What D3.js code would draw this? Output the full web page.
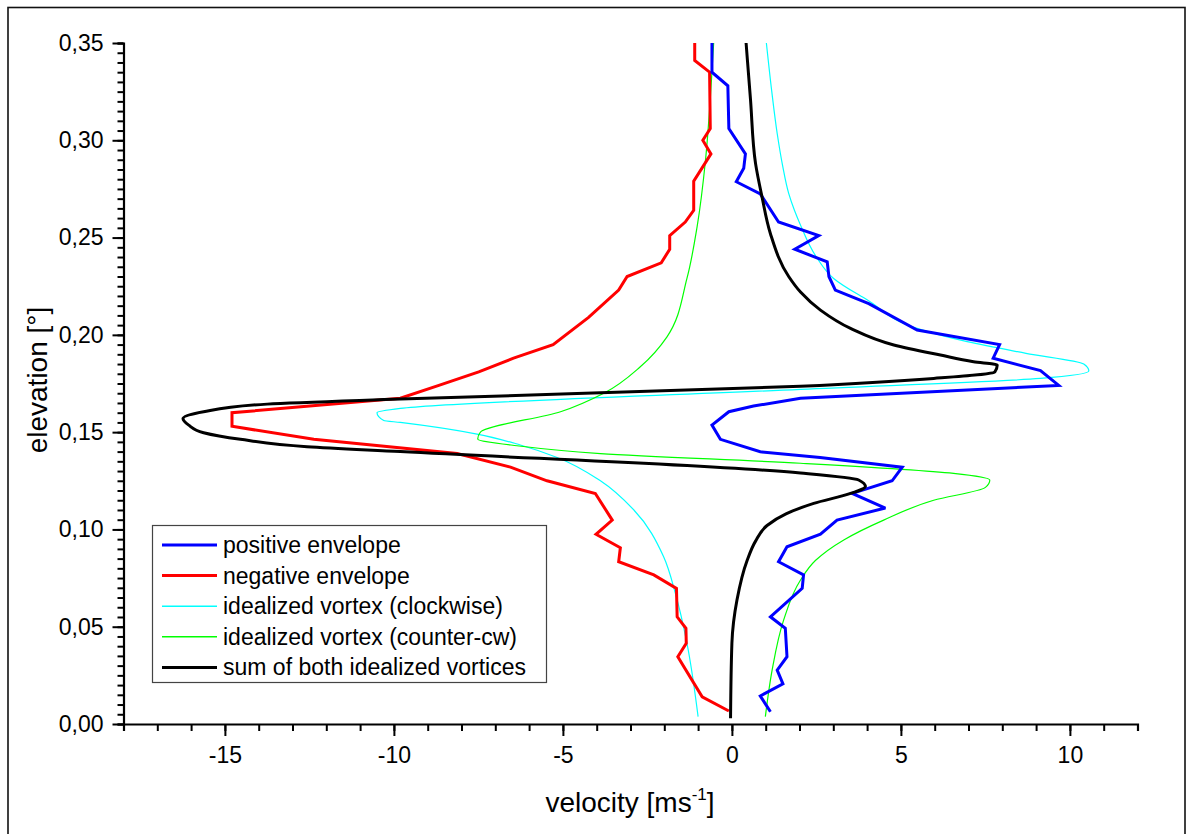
<!DOCTYPE html>
<html>
<head>
<meta charset="utf-8">
<script src="https://cdn.jsdelivr.net/npm/d3@7"></script>
<style>
  html, body { margin: 0; padding: 0; background: #fff; }
  svg { display: block; font-family: "Liberation Sans", Arial, sans-serif; }
</style>
</head>
<body>
<svg id="chart" width="1187" height="834"></svg>
<script>
// ---- data: [velocity (m/s), elevation (°)] ----
const positiveEnvelope = [
  [-0.59,0.350],[-0.59,0.335],[-0.12,0.328],[-0.09,0.306],[0.40,0.293],[0.35,0.2856],[0.13,0.2787],
  [0.84,0.2724],[1.38,0.258],[2.57,0.251],[1.86,0.244],[2.82,0.2375],[2.87,0.230],[3.06,0.223],
  [4.05,0.216],[5.48,0.2025],[7.92,0.195],[7.73,0.188],[9.13,0.1816],[9.67,0.174],[2.03,0.1674],
  [0.64,0.1634],[-0.09,0.1605],[-0.59,0.1536],[-0.34,0.1463],[0.84,0.1399],[2.61,0.137],
  [5.04,0.132],[4.74,0.125],[3.56,0.1185],[4.54,0.111],[3.11,0.1048],[2.62,0.0976],[1.63,0.0911],
  [1.38,0.0834],[2.12,0.0766],[2.08,0.0697],[1.14,0.0551],[1.58,0.0492],[1.63,0.0346],[1.34,0.0277],
  [1.51,0.0206],[0.84,0.0144],[1.14,0.0063]
];
const negativeEnvelope = [
  [-1.10,0.350],[-1.10,0.341],[-0.66,0.335],[-0.64,0.306],[-0.86,0.300],[-0.62,0.293],[-1.13,0.279],
  [-1.13,0.264],[-1.38,0.258],[-1.84,0.251],[-1.84,0.244],[-2.09,0.237],[-3.10,0.230],[-3.35,0.223],
  [-4.24,0.209],[-5.29,0.195],[-6.46,0.188],[-7.49,0.181],[-8.67,0.174],[-9.81,0.1674],[-14.79,0.160],
  [-14.79,0.153],[-12.37,0.1463],[-8.13,0.139],[-6.55,0.132],[-5.47,0.125],[-4.04,0.1185],
  [-3.54,0.1048],[-4.02,0.0975],[-3.30,0.0906],[-3.35,0.0834],[-2.31,0.0766],[-1.64,0.0697],
  [-1.62,0.0551],[-1.36,0.0492],[-1.35,0.0415],[-1.60,0.0346],[-0.88,0.0140],[-0.09,0.0067]
];
const vortexClockwise = [
  [1.02,0.350],[1.18,0.325],[1.34,0.3035],[1.50,0.287],[1.68,0.2727],[1.85,0.264],[2.03,0.2564],
  [2.50,0.240],[3.01,0.229],[4.00,0.218],[5.48,0.2033],[6.96,0.1965],[8.70,0.1905],[10.41,0.185],
  [10.56,0.1814],[9.13,0.1776],[2.03,0.172],[-9.81,0.1622],[-10.50,0.160],[-10.30,0.156],
  [-9.81,0.155],[-7.54,0.149],[-6.26,0.1434],[-5.17,0.137],[-3.89,0.125],[-2.90,0.110],
  [-2.02,0.086],[-1.67,0.067],[-1.33,0.0415],[-1.00,0.0038]
];
const vortexCounterCw = [
  [-0.54,0.350],[-0.64,0.321],[-0.78,0.290],[-1.03,0.2555],[-1.33,0.229],[-1.92,0.199],
  [-2.71,0.1836],[-3.79,0.170],[-5.07,0.1605],[-7.44,0.150],[-7.52,0.1465],[-6.36,0.143],
  [-3.89,0.139],[2.03,0.134],[6.56,0.1288],[7.63,0.1254],[7.50,0.1216],[5.97,0.115],
  [4.49,0.1048],[3.31,0.0946],[2.47,0.084],[2.03,0.074],[1.53,0.0534],[1.19,0.0277],[0.99,0.0038]
];
const vortexSum = [
  [0.42,0.350],[0.55,0.321],[0.70,0.288],[0.89,0.271],[1.14,0.252],[1.68,0.230],[2.03,0.222],
  [2.62,0.2127],[3.51,0.2033],[4.79,0.1948],[6.17,0.1896],[7.15,0.1862],[7.85,0.1845],[7.78,0.181],
  [5.97,0.1776],[2.03,0.1736],[-9.81,0.167],[-13.75,0.1644],[-15.63,0.1605],[-16.24,0.157],
  [-16.07,0.1536],[-15.63,0.1497],[-14.54,0.1463],[-12.57,0.1425],[-9.81,0.140],[2.03,0.129],
  [3.75,0.1254],[3.95,0.122],[3.51,0.1185],[2.42,0.1134],[1.60,0.108],[1.04,0.102],[0.70,0.094],
  [0.45,0.084],[0.15,0.0637],[0.00,0.0415],[-0.04,0.003]
];
const xMajorTicks = [-15, -10, -5, 0, 5, 10];
const yMajorTicks = [0.00, 0.05, 0.10, 0.15, 0.20, 0.25, 0.30, 0.35];
const legendLabels = [
  "positive envelope", "negative envelope", "idealized vortex (clockwise)",
  "idealized vortex (counter-cw)", "sum of both idealized vortices"
];

// ---- drawing ----
const svg = d3.select("#chart");
const x = d3.scaleLinear().domain([-18, 12]).range([123.5, 1137.5]);
const y = d3.scaleLinear().domain([0, 0.35]).range([724, 43]);

// outer frame
svg.append("rect").attr("x", 8).attr("y", 7.5).attr("width", 1177).attr("height", 840)
  .attr("fill", "none").attr("stroke", "#111").attr("stroke-width", 1.6);

svg.append("clipPath").attr("id", "clip").append("rect")
  .attr("x", x(-18)).attr("y", y(0.35) - 2).attr("width", x(12) - x(-18)).attr("height", y(0) - y(0.35) + 2);

const series = [
  { data: vortexClockwise, color: "#00ffff", width: 1.2, curve: d3.curveMonotoneY },
  { data: vortexCounterCw, color: "#00ff00", width: 1.2, curve: d3.curveMonotoneY },
  { data: negativeEnvelope, color: "#ff0000", width: 3, curve: d3.curveLinear },
  { data: positiveEnvelope, color: "#0000ff", width: 3, curve: d3.curveLinear },
  { data: vortexSum, color: "#000000", width: 3, curve: d3.curveMonotoneY }
];
const plot = svg.append("g").attr("clip-path", "url(#clip)");
series.forEach(s => {
  plot.append("path").datum(s.data)
    .attr("fill", "none").attr("stroke", s.color).attr("stroke-width", s.width)
    .attr("stroke-linejoin", "miter").attr("stroke-miterlimit", 3)
    .attr("d", d3.line().x(d => x(d[0])).y(d => y(d[1])).curve(s.curve));
});

const comma = v => d3.format(".2f")(v).replace(".", ",");
const hyphenInt = v => (v < 0 ? "-" + Math.abs(v) : String(v));

// x axis
const xAxisMinor = d3.axisBottom(x).tickValues(d3.range(-18, 13, 1)).tickSize(7).tickFormat(() => "");
const xAxisMajor = d3.axisBottom(x).tickValues(xMajorTicks).tickSize(12).tickPadding(11).tickFormat(hyphenInt);
[xAxisMinor, xAxisMajor].forEach((ax, i) => {
  const g = svg.append("g").attr("transform", `translate(0,${y(0)})`).call(ax);
  g.select(".domain").attr("stroke", i === 0 ? "#000" : "none").attr("stroke-width", 2.2);
  g.selectAll(".tick line").attr("stroke", "#000").attr("stroke-width", 2);
  g.selectAll("text").attr("font-size", 23).attr("fill", "#000")
    .attr("font-family", "Liberation Sans, Arial, sans-serif");
  if (i === 0) g.selectAll("text").remove();
});

// y axis
const yAxisMinor = d3.axisLeft(y).tickValues(d3.range(0, 71).map(i => i * 0.005)).tickSize(6).tickFormat(() => "");
const yAxisMajor = d3.axisLeft(y).tickValues(yMajorTicks).tickSize(11).tickPadding(9).tickFormat(comma);
[yAxisMinor, yAxisMajor].forEach((ax, i) => {
  const g = svg.append("g").attr("transform", `translate(${x(-18)},0)`).call(ax);
  g.select(".domain").attr("stroke", i === 0 ? "#000" : "none").attr("stroke-width", 2.2);
  g.selectAll(".tick line").attr("stroke", "#000").attr("stroke-width", 2);
  g.selectAll("text").attr("font-size", 23).attr("fill", "#000")
    .attr("font-family", "Liberation Sans, Arial, sans-serif");
  if (i === 0) g.selectAll("text").remove();
});

// axis titles
const xt = svg.append("text").attr("x", 630).attr("y", 812).attr("text-anchor", "middle")
  .attr("font-size", 28).attr("fill", "#000");
xt.append("tspan").text("velocity [ms");
xt.append("tspan").attr("font-size", 17).attr("dy", -12).text("-1");
xt.append("tspan").attr("dy", 12).text("]");

svg.append("text").attr("transform", "translate(47,380) rotate(-90)").attr("text-anchor", "middle")
  .attr("font-size", 28).attr("fill", "#000").text("elevation [°]");

// legend
const legendSeries = [series[3], series[2], series[0], series[1], series[4]];
const lg = svg.append("g");
lg.append("rect").attr("x", 152.5).attr("y", 525.5).attr("width", 394).attr("height", 157)
  .attr("fill", "#fff").attr("stroke", "#444").attr("stroke-width", 1.2);
legendLabels.forEach((lab, i) => {
  const cy = 545 + i * 30.6;
  const s = legendSeries[i];
  lg.append("line").attr("x1", 162).attr("x2", 217).attr("y1", cy).attr("y2", cy)
    .attr("stroke", s.color).attr("stroke-width", s.width === 3 ? 3 : 1.5);
  lg.append("text").attr("x", 223).attr("y", cy + 8).attr("font-size", 23).attr("fill", "#000").text(lab);
});
</script>
</body>
</html>
